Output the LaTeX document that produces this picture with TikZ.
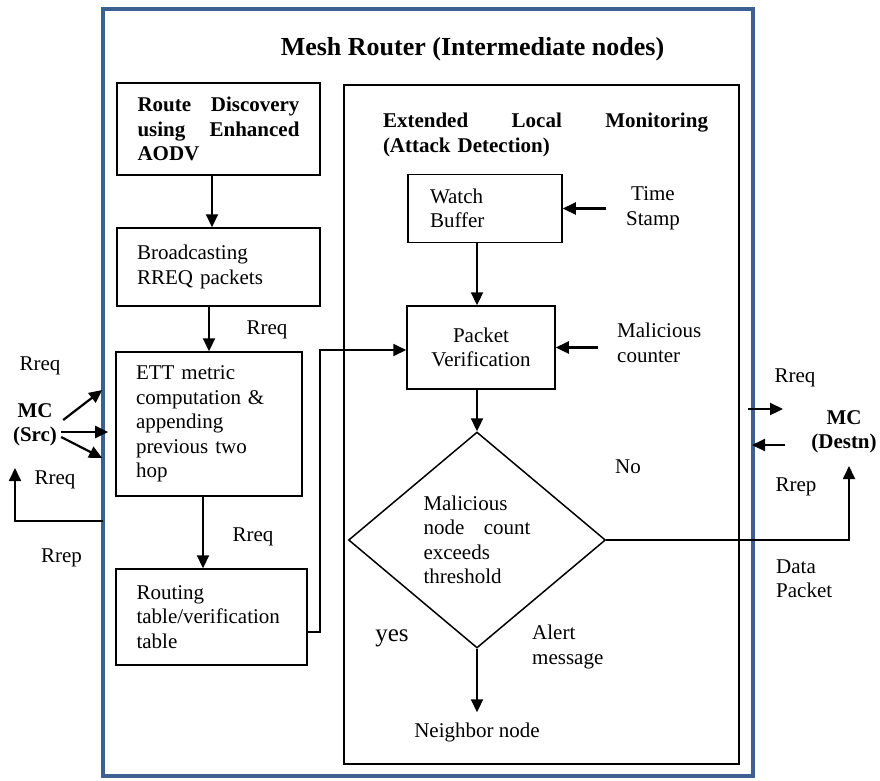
\documentclass[tikz,border=0pt]{standalone}
\usepackage{fontspec}
\setmainfont{Liberation Serif}
\usetikzlibrary{arrows.meta, positioning, shapes.geometric}
\definecolor{FrameBlue}{RGB}{60, 96, 146}
\newcommand{\spreadrow}[2]{\makebox[#1][l]{#2}}

\begin{document}
\begin{tikzpicture}[
    x=1pt, y=-1pt,
    every node/.style={font=\fontsize{21}{24.5}\selectfont, align=left, inner sep=0pt},
    bold/.style={font=\fontsize{21}{24.5}\selectfont\bfseries},
    box/.style={draw, line width=1.5pt},
    arr/.style={-{Triangle[length=13pt, width=12pt]}, line width=2.2pt}
]
\useasboundingbox (0,0) rectangle (880,780);

% router frame and monitoring block
\node[draw=FrameBlue, line width=4.5pt, minimum width=650pt, minimum height=767pt] (router) at (428,392.5) {};
\node[draw, line width=1.2pt, minimum width=395pt, minimum height=679pt] (monitor) at (541.5,424.5) {};
\node[font=\fontsize{26}{30}\selectfont\bfseries] (title) at (472.5,49) {Mesh Router (Intermediate nodes)};
\node[bold, text width=325pt] (elm) at (545.5,135)
    {\spreadrow{325pt}{Extended\hfill Local\hfill Monitoring}\\ (Attack Detection)};

% route discovery column
\node[box, bold, minimum width=203pt, minimum height=92pt, text width=162pt] (route) at (218.5,129)
    {\spreadrow{162pt}{Route\hfill Discovery}\\ \spreadrow{162pt}{using\hfill Enhanced}\\ AODV};
\node[box, minimum width=203pt, minimum height=78pt, text width=163pt] (broad) at (218.5,267) {Broadcasting\\ RREQ packets};
\node[box, minimum width=186pt, minimum height=144pt, text width=146pt] (ett) at (209,424)
    {ETT metric\\ computation \&\\ appending\\ previous two\\ hop};
\node[box, minimum width=191pt, minimum height=96pt, text width=150pt] (routing) at (211.5,617)
    {Routing\\ table/verification\\ table};

% monitoring steps
\node[box, minimum width=154pt, minimum height=68pt, text width=110pt] (wb) at (485,208.5) {Watch\\ Buffer};
\node[box, align=center, minimum width=148pt, minimum height=83pt] (pv) at (481,347.5) {Packet\\ Verification};
\node[box, diamond, aspect=1.19, minimum width=257pt, minimum height=216pt, text width=107pt] (dec) at (477,540)
    {Malicious\\ \spreadrow{107pt}{node\hfill count}\\ exceeds\\ threshold};

% end points
\node[bold, align=center] (src) at (35,425) {MC\\ (Src)};
\node[bold, align=center] (dst) at (844,432) {MC\\ (Destn)};

% labels
\node[align=center] (ts) at (653,208.5) {Time\\ Stamp};
\node[anchor=west] (cnt) at (617,343) {Malicious\\ counter};
\node (no) at (628,467) {No};
\node[font=\fontsize{25}{28}\selectfont] (yes) at (392,638) {yes};
\node[anchor=west] (alert) at (532,647) {Alert\\ message};
\node (nb) at (477,732) {Neighbor node};
\node (rq1) at (267,330) {Rreq};
\node (rq2) at (253,537) {Rreq};
\node (rq3) at (40,366) {Rreq};
\node (rq4) at (55,480) {Rreq};
\node (rp1) at (61.5,558) {Rrep};
\node (rq5) at (795,378) {Rreq};
\node (rp2) at (796,487) {Rrep};
\node[anchor=west] (data) at (776,578.5) {Data\\ Packet};

\coordinate (jog) at (320,350);
\coordinate (back) at (103,521);
\coordinate (backend) at (15,468);
\coordinate (reqout) at (748,409);
\coordinate (repin) at (785,445);
\coordinate (dstin) at (849,466);

% connectors
\draw[arr] ([xshift=-6.5pt]route.south) -- ([xshift=-6.5pt]broad.north);
\draw[arr] (broad.south -| ett.north) -- (ett.north);
\draw[arr] ([xshift=-6pt]ett.south) -- ([xshift=-8.5pt]routing.north);
\draw[arr, line width=1.8pt] ([yshift=-15pt]routing.east) -| (jog) -- (jog -| pv.west);
\draw[arr] (wb.east) ++(43,0) -- (wb.east);
\draw[arr] ([xshift=-8pt]wb.south) -- ([xshift=-4pt]pv.north);
\draw[arr] (pv.east) ++(42,0) -- (pv.east);
\draw[arr] ([xshift=-4pt]pv.south) -- (dec.north);
\draw[arr] (dec.south) -- ([yshift=10pt]nb.north);
\draw[arr, line width=1.8pt] (dec.east) -| (dstin);
\draw[arr] ([shift={(6pt,5pt)}]src.east) -- ++(39,-30);
\draw[arr] ([shift={(4pt,-7pt)}]src.east) -- ++(47,0);
\draw[arr] ([shift={(4pt,-12pt)}]src.east) -- ++(41,21);
\draw[arr, line width=1.8pt] (back) -| (backend);
\draw[arr] (reqout) -- ++(35,0);
\draw[arr] (repin) -- ++(-33,0);
\end{tikzpicture}
\end{document}
